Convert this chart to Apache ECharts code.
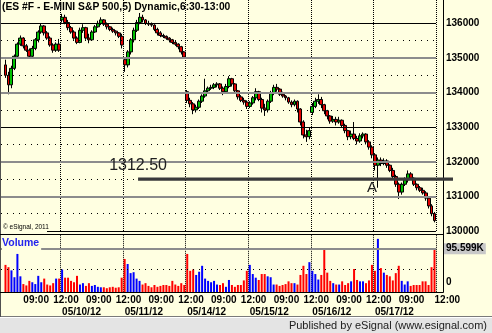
<!DOCTYPE html>
<html><head><meta charset="utf-8">
<script src="https://cdn.jsdelivr.net/npm/echarts@6/dist/echarts.min.js"></script>
<style>html,body{margin:0;padding:0;background:#FFFFE1;}#c{width:492px;height:333px;}</style>
</head><body><div id="c"></div>
<script>
// ---- DATA (prices in index points, volumes in thousands) ----
const opens = [
1348.0,1345.0,1342.25,1347.0,1350.5,1354.0,1355.75,1353.5,1352.25,1350.5,1352.75,1355.25,1357.5,1359.25,1357.25,1355.75,1353.75,1352.25,1354.0,
1361.0,1361.75,1360.25,1358.75,1357.5,1355.75,1354.5,1358.0,1358.75,1355.75,1355.25,1357.5,1359.0,1360.0,1361.0,1359.75,1359.0,1358.25,1357.75,1357.25,1356.25,
1349.5,1348.0,1351.75,1355.25,1358.0,1360.25,1361.75,1361.0,1360.0,1359.75,1359.5,1358.25,1357.25,1356.5,1356.25,1355.75,1355.25,1354.5,1354.0,1353.25,1351.75,
1340.25,1337.75,1336.75,1335.0,1335.75,1337.5,1339.0,1340.5,1341.25,1341.5,1342.25,1342.5,1341.25,1340.25,1341.75,1344.0,1342.5,1340.5,1338.75,1337.75,1337.25,
1336.0,1337.0,1338.5,1340.25,1338.0,1335.5,1335.0,1337.5,1339.75,1341.5,1341.0,1339.5,1339.0,1338.5,1337.25,1336.5,1337.5,1335.25,1331.5,1327.75,1327.25,
1334.25,1336.0,1337.5,1338.0,1336.5,1334.75,1333.25,1331.75,1332.25,1331.5,1332.0,1330.5,1329.0,1327.25,1328.0,1326.75,1326.0,1327.5,1328.0,1325.75,1324.25,
1322.0,1319.0,1320.5,1319.5,1320.25,1319.0,1317.5,1315.75,1313.5,1311.25,1313.5,1314.75,1316.5,1315.25,1313.5,1312.5,1311.75,1311.0,1309.5,1307.25,1305.0
];
const closes = [
1345.0,1342.25,1347.0,1350.5,1354.0,1355.75,1353.5,1352.25,1350.5,1352.75,1355.25,1357.5,1359.25,1357.25,1355.75,1353.75,1352.25,1354.0,1352.25,
1361.75,1360.25,1358.75,1357.5,1355.75,1354.5,1358.0,1358.75,1355.75,1355.25,1357.5,1359.0,1360.0,1361.0,1359.75,1359.0,1358.25,1357.75,1357.25,1356.25,1353.75,
1348.0,1351.75,1355.25,1358.0,1360.25,1361.75,1361.0,1360.0,1359.75,1359.5,1358.25,1357.25,1356.5,1356.25,1355.75,1355.25,1354.5,1354.0,1353.25,1351.75,1350.25,
1337.75,1336.75,1335.0,1335.75,1337.5,1339.0,1340.5,1341.25,1341.5,1342.25,1342.5,1341.25,1340.25,1341.75,1344.0,1342.5,1340.5,1338.75,1337.75,1337.25,1336.0,
1337.0,1338.5,1340.25,1338.0,1335.5,1335.0,1337.5,1339.75,1341.5,1341.0,1339.5,1339.0,1338.5,1337.25,1336.5,1337.5,1335.25,1331.5,1327.75,1327.25,1329.0,
1336.0,1337.5,1338.0,1336.5,1334.75,1333.25,1331.75,1332.25,1331.5,1332.0,1330.5,1329.0,1327.25,1328.0,1326.75,1326.0,1327.5,1328.0,1325.75,1324.25,1322.0,
1319.0,1320.5,1319.5,1320.25,1319.0,1317.5,1315.75,1313.5,1311.25,1313.5,1314.75,1316.5,1315.25,1313.5,1312.5,1311.75,1311.0,1309.5,1307.25,1305.0,1303.0
];
const highs = [
1349.5,1346.0,1347.75,1351.0,1354.5,1356.5,1356.0,1354.0,1352.75,1353.5,1355.75,1358.0,1360.0,1359.5,1357.75,1356.25,1354.25,1354.5,1355.5,
1362.75,1362.5,1361.0,1359.25,1358.0,1356.25,1358.75,1359.75,1359.0,1357.0,1358.0,1359.5,1360.75,1361.75,1361.25,1360.25,1359.25,1358.75,1358.0,1357.5,1357.0,
1350.0,1352.25,1355.75,1358.75,1361.0,1363.0,1362.5,1361.25,1360.75,1360.25,1359.75,1358.75,1357.75,1357.0,1356.5,1356.0,1355.5,1355.0,1354.25,1353.5,1352.0,
1340.75,1338.5,1337.25,1336.5,1338.0,1339.5,1344.0,1341.75,1342.25,1342.75,1343.0,1342.75,1341.75,1342.5,1344.75,1344.25,1342.75,1340.75,1339.25,1338.5,1337.75,
1337.5,1339.0,1341.25,1340.5,1338.5,1336.75,1338.0,1340.5,1342.25,1342.5,1341.25,1340.25,1339.25,1338.75,1337.75,1338.0,1337.75,1335.5,1332.0,1329.25,1330.0,
1337.0,1338.5,1339.5,1338.75,1336.75,1335.0,1333.5,1333.25,1333.0,1333.0,1332.25,1331.0,1329.25,1329.0,1331.5,1327.5,1328.25,1328.5,1328.25,1326.25,1324.75,
1322.5,1321.25,1321.25,1321.0,1320.75,1319.25,1318.25,1316.25,1314.0,1314.0,1315.5,1317.5,1317.0,1315.5,1313.75,1313.0,1312.5,1311.5,1309.75,1307.75,1305.5
];
const lows = [
1344.25,1339.5,1341.25,1346.5,1350.0,1353.5,1352.75,1351.75,1349.75,1350.25,1352.25,1354.5,1357.0,1356.5,1355.25,1353.25,1351.5,1351.75,1351.75,
1360.25,1359.75,1358.0,1357.0,1355.25,1354.0,1354.25,1357.25,1355.25,1354.25,1355.0,1357.25,1358.75,1359.5,1359.25,1358.25,1357.75,1357.25,1356.5,1355.75,1352.75,
1346.0,1347.25,1351.0,1354.5,1357.5,1359.75,1360.25,1359.5,1359.25,1359.0,1357.75,1356.5,1356.0,1355.75,1355.25,1354.5,1354.0,1353.5,1352.5,1351.0,1349.75,
1337.0,1335.75,1333.75,1334.25,1335.25,1337.0,1338.5,1339.75,1340.75,1341.0,1341.5,1340.75,1339.25,1339.75,1341.25,1341.75,1339.75,1338.0,1337.25,1336.5,1335.25,
1335.5,1336.5,1337.75,1337.5,1334.25,1333.25,1334.25,1337.0,1339.25,1340.25,1339.0,1338.5,1337.75,1336.75,1335.75,1336.0,1334.25,1330.5,1326.75,1325.75,1326.5,
1333.5,1335.5,1336.75,1335.5,1333.75,1332.25,1331.0,1331.25,1330.5,1331.0,1330.0,1328.25,1326.25,1326.5,1326.25,1325.0,1325.5,1326.75,1325.0,1323.5,1321.0,
1317.5,1312.5,1318.75,1319.0,1318.25,1317.0,1315.25,1312.75,1309.25,1310.5,1313.0,1314.0,1314.75,1313.0,1311.75,1311.25,1310.5,1308.75,1306.5,1304.25,1302.5
];
const volumes = [
60,55,48,33,84,35,18,15,25,22,18,36,22,30,17,15,20,30,30,
50,32,32,25,22,36,17,20,14,20,14,16,12,11,11,9,11,12,10,11,32,
73,62,42,44,30,25,17,20,14,11,16,12,14,16,16,14,25,17,14,20,16,
84,47,50,38,45,58,30,25,22,25,17,16,20,12,27,16,12,16,16,26,47,
60,40,32,27,40,40,35,33,17,17,14,16,18,24,20,20,17,38,58,40,66,
47,40,28,38,97,43,25,20,17,17,24,16,20,24,51,27,24,24,20,26,60,
47,117,53,43,38,35,26,42,58,25,17,24,14,16,16,16,24,24,16,55,95.599
];
const dayStartIdx = [19, 40, 61, 82, 103, 124];
const dateLabels = ['05/10/12', '05/11/12', '05/14/12', '05/15/12', '05/16/12', '05/17/12'];
const timeIdx = [6, 16, 27, 37, 48, 58, 69, 79, 90, 100, 111, 121, 132, 144];
const timeLabels = ['09:00','12:00','09:00','12:00','09:00','12:00','09:00','12:00','09:00','12:00','09:00','12:00','09:00','12:00'];
const blackLevels = [1300, 1330, 1360];
const grayLevels = [1310, 1320, 1340, 1350];
const dottedLevels = [1305, 1315, 1325, 1335, 1345, 1355];
const keyLevel = 1315, keyLabel = '1312.50', keyStartIdx = 45;
const markAIdx = 123, markAText = 'A';
const volDotted = [50];
const titleText = '(ES #F - E-MINI S&P 500,5) Dynamic,6:30-13:00';

// ---- CHART ----
const BG = '#FFFFE1';
const FONT = 'Arial, "Liberation Sans", sans-serif';
const PMIN = 1300, PMAX = 1366.75, VMAX = 125;
const categories = opens.map((_, i) => String(i));
const bars = opens.map((o, i) => [o, closes[i], lows[i], highs[i]]);
const last = closes.length - 1;
const volData = volumes.map((v, i) => ({ value: v, itemStyle: { color: closes[i] >= opens[i] ? '#0000FF' : '#FF0000' } }));

const axisFont = { fontSize: 10, fontWeight: 'bold', color: '#000', fontFamily: FONT };
const daySplit = { show: true, interval: (i) => dayStartIdx.includes(i), lineStyle: { color: '#000', type: [1, 1], width: 1 } };

const priceMarks = []
  .concat(blackLevels.map(v => ({ yAxis: v, lineStyle: { color: '#000', width: 1, type: 'solid' } })))
  .concat(grayLevels.map(v => ({ yAxis: v, lineStyle: { color: '#8c8c8c', width: 2, type: 'solid' } })))
  .concat(dottedLevels.map(v => ({ yAxis: v, lineStyle: { color: '#000', width: 1, type: [1, 5] } })))
  .concat([{ yAxis: closes[last], lineStyle: { opacity: 0 },
    label: { show: true, position: 'end', distance: 8, formatter: String(Math.round(closes[last] * 100)),
      backgroundColor: '#C8C8C8', padding: [1, 2, 0, 2], ...axisFont } }]);

const volMarks = volDotted.map(v => ({ yAxis: v, lineStyle: { color: '#000', width: 1, type: [1, 5] } }))
  .concat([{ yAxis: volumes[last], lineStyle: { color: '#8c8c8c', width: 2, type: 'solid' },
    label: { show: true, position: 'end', distance: 8, formatter: volumes[last].toFixed(3) + 'K',
      backgroundColor: '#C8C8C8', padding: [1, 2, 0, 2], ...axisFont } }]);

const chart = echarts.init(document.getElementById('c'), null, { renderer: 'canvas' });
chart.setOption({
  animation: false,
  backgroundColor: BG,
  grid: [
    { left: 1, top: 0, width: 435, height: 231 },
    { left: 4, top: 0, width: 432, height: 231 },
    { left: 4, top: 235.2, width: 432, height: 57.1 },
    { left: 1, top: 235.2, width: 435, height: 57.1 }
  ],
  xAxis: [
    { gridIndex: 0, type: 'value', min: 0, max: 1, show: false },
    { gridIndex: 1, type: 'category', data: categories, boundaryGap: true,
      axisLine: { show: false }, axisTick: { show: false }, axisLabel: { show: false }, splitLine: daySplit },
    { gridIndex: 2, type: 'category', position: 'bottom', data: categories, boundaryGap: true,
      axisLine: { show: false }, axisTick: { show: false }, splitLine: daySplit,
      axisLabel: { interval: (i) => timeIdx.includes(i), formatter: (v, i) => timeLabels[timeIdx.indexOf(i)],
        align: 'left', margin: 3, ...axisFont } },
    { gridIndex: 2, type: 'category', position: 'bottom', data: categories, boundaryGap: true, offset: 12,
      axisLine: { show: false }, axisTick: { show: false }, splitLine: { show: false },
      axisLabel: { interval: (i) => dayStartIdx.includes(i), formatter: (v, i) => dateLabels[dayStartIdx.indexOf(i)],
        align: 'left', margin: 3, ...axisFont } },
    { gridIndex: 3, type: 'value', min: 0, max: 1, show: false }
  ],
  yAxis: [
    { gridIndex: 0, type: 'value', min: PMIN, max: PMAX, show: false },
    { gridIndex: 1, type: 'value', min: PMIN, max: PMAX, interval: 10, position: 'right', offset: 7,
      axisLine: { show: false }, axisTick: { show: false }, splitLine: { show: false },
      axisLabel: { margin: 3, formatter: v => (Math.abs(v % 10) < 1e-6 ? String(Math.round(v * 100)) : ''), ...axisFont } },
    { gridIndex: 2, type: 'value', min: 0, max: VMAX, interval: VMAX, position: 'right', offset: 7,
      axisLine: { show: false }, axisTick: { show: false }, splitLine: { show: false },
      axisLabel: { margin: 3, formatter: v => (v === 0 ? '0' : ''), verticalAlign: 'bottom', padding: [0, 0, 5, 0], ...axisFont } },
    { gridIndex: 3, type: 'value', min: 0, max: VMAX, show: false }
  ],
  series: [
    { type: 'line', xAxisIndex: 0, yAxisIndex: 0, data: [], z: 1,
      markLine: { symbol: 'none', silent: true, animation: false, label: { show: false }, data: priceMarks } },
    { type: 'candlestick', xAxisIndex: 1, yAxisIndex: 1, data: bars, barWidth: 3.4, z: 3,
      itemStyle: { color: '#00C000', color0: '#E00000', borderColor: '#000', borderColor0: '#000', borderWidth: 1 } },
    { type: 'line', xAxisIndex: 4, yAxisIndex: 3, data: [], z: 1,
      markLine: { symbol: 'none', silent: true, animation: false, label: { show: false }, data: volMarks } },
    { type: 'bar', xAxisIndex: 2, yAxisIndex: 2, data: volData, barWidth: 2, z: 3 }
  ]
});

const kp = chart.convertToPixel({ gridIndex: 1 }, [keyStartIdx, keyLevel]);
const ap = chart.convertToPixel({ gridIndex: 1 }, [markAIdx, keyLevel]);
const startX = kp[0] - 1.5;
chart.setOption({
  graphic: [
    { type: 'rect', z: 100, shape: { x: 0, y: 317, width: 492, height: 16 }, style: { fill: '#E4E4E4' } },
    { type: 'line', z: 100, shape: { x1: 0, y1: 316.5, x2: 492, y2: 316.5 }, style: { stroke: '#7a7a7a', lineWidth: 1 } },
    { type: 'line', z: 100, shape: { x1: 0, y1: 317.5, x2: 492, y2: 317.5 }, style: { stroke: '#ffffff', lineWidth: 1 } },
    { type: 'line', z: 100, shape: { x1: 0.5, y1: 0, x2: 0.5, y2: 317 }, style: { stroke: '#505050', lineWidth: 1 } },
    { type: 'line', z: 100, shape: { x1: 443.5, y1: 0, x2: 443.5, y2: 292.5 }, style: { stroke: '#000', lineWidth: 1 } },
    { type: 'line', z: 100, shape: { x1: 0, y1: 292.5, x2: 443.5, y2: 292.5 }, style: { stroke: '#000', lineWidth: 1 } },
    { type: 'line', z: 100, shape: { x1: 0, y1: 234.5, x2: 443.5, y2: 234.5 }, style: { stroke: '#000', lineWidth: 1 } },
    { type: 'rect', z: 100, shape: { x: 1, y: 222, width: 46, height: 10.5 }, style: { fill: BG } },
    { type: 'text', z: 101, x: 3, y: 227, style: { text: '\u00a9 eSignal, 2011', font: '6.5px ' + FONT, fill: '#000', verticalAlign: 'middle' } },
    { type: 'text', z: 101, x: 2, y: 7.5, style: { text: titleText, font: 'bold 10.3px ' + FONT, fill: '#000', verticalAlign: 'middle' } },
    { type: 'text', z: 101, x: 2, y: 243, style: { text: 'Volume', font: 'bold 10.5px ' + FONT, fill: '#2424EE', verticalAlign: 'middle', backgroundColor: BG, padding: [2, 2, 2, 0] } },
    { type: 'text', z: 101, x: 487, y: 325.5, style: { text: 'Published by eSignal (www.esignal.com)', font: '11px ' + FONT, fill: '#202020', align: 'right', verticalAlign: 'middle' } },
    { type: 'line', z: 102, shape: { x1: startX, y1: kp[1], x2: 453, y2: kp[1] }, style: { stroke: '#3a3a3a', lineWidth: 3.3 } },
    { type: 'text', z: 102, x: startX, y: kp[1] - 13, style: { text: keyLabel, font: '16px ' + FONT, fill: '#202020', align: 'center', verticalAlign: 'middle' } },
    { type: 'text', z: 102, x: ap[0], y: ap[1] + 8.5, style: { text: markAText, font: '15px ' + FONT, fill: '#202020', align: 'center', verticalAlign: 'middle' } }
  ]
});
</script>
</body></html>
